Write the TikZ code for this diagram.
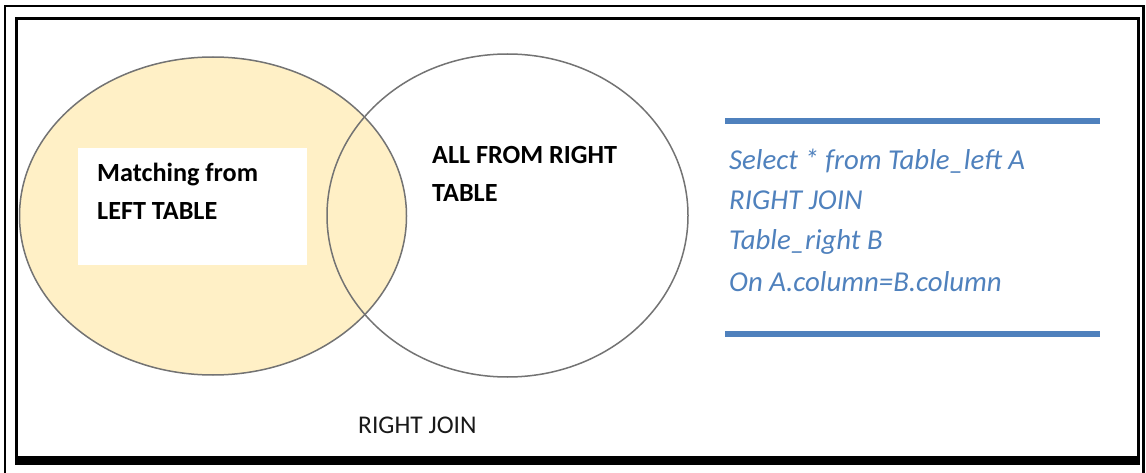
\documentclass[tikz,border=0pt]{standalone}
\usepackage{fontspec}
\setmainfont{Carlito}
\definecolor{venn}{RGB}{255,240,198}
\definecolor{sqlblue}{RGB}{79,129,189}
\definecolor{ring}{RGB}{115,115,115}
\begin{document}
\begin{tikzpicture}[x=1pt,y=-1pt,
  ringstyle/.style={draw=ring,line width=1.5pt},
  boldtxt/.style={anchor=base west,inner sep=0pt,font=\fontsize{26.2}{30}\selectfont\bfseries,text=black},
  sqltxt/.style={anchor=base west,inner sep=0pt,font=\fontsize{28.8}{32}\selectfont\itshape,text=sqlblue},
  bar/.style={draw=sqlblue,line width=6pt}]
\useasboundingbox (0,0) rectangle (1146,473);
\fill[white] (0,0) rectangle (1146,473);
% frames
\draw[line width=2.2pt] (5,473) -- (5,6) -- (1143.5,6) -- (1143.5,473);
\draw[line width=3pt] (16.5,19) rectangle (1138.5,457);
\fill[black] (15,456) rectangle (1140,465);
% venn
\draw[ringstyle,fill=venn] (213,216) ellipse [x radius=193.5, y radius=159];
\fill[white] (78,148) rectangle (307,265);
\draw[ringstyle] (507.5,215.5) ellipse [x radius=180.5, y radius=161.5];
% texts
\node[boldtxt] (m1) at (97,182) {Matching from};
\node[boldtxt] (m2) at (97,220) {LEFT TABLE};
\node[boldtxt] (a1) at (432,164) {ALL FROM RIGHT};
\node[boldtxt] (a2) at (432,202) {TABLE};
% sql
\coordinate (b1l) at (725,121);
\coordinate (b1r) at (1100,121);
\coordinate (b2l) at (725,334);
\coordinate (b2r) at (1100,334);
\draw[bar] (b1l) -- (b1r);
\draw[bar] (b2l) -- (b2r);
\node[sqltxt] (s1) at (729,170) {Select * from Table\_left A};
\node[sqltxt] (s2) at (729,210) {RIGHT JOIN};
\node[sqltxt] (s3) at (729,250) {Table\_right B};
\node[sqltxt] (s4) at (729,291.5) {On A.column=B.column};
% label
\node[anchor=base west,inner sep=0pt,font=\fontsize{25.5}{30}\selectfont,text=black!90] (lbl) at (358,433) {RIGHT JOIN};
\end{tikzpicture}
\end{document}
